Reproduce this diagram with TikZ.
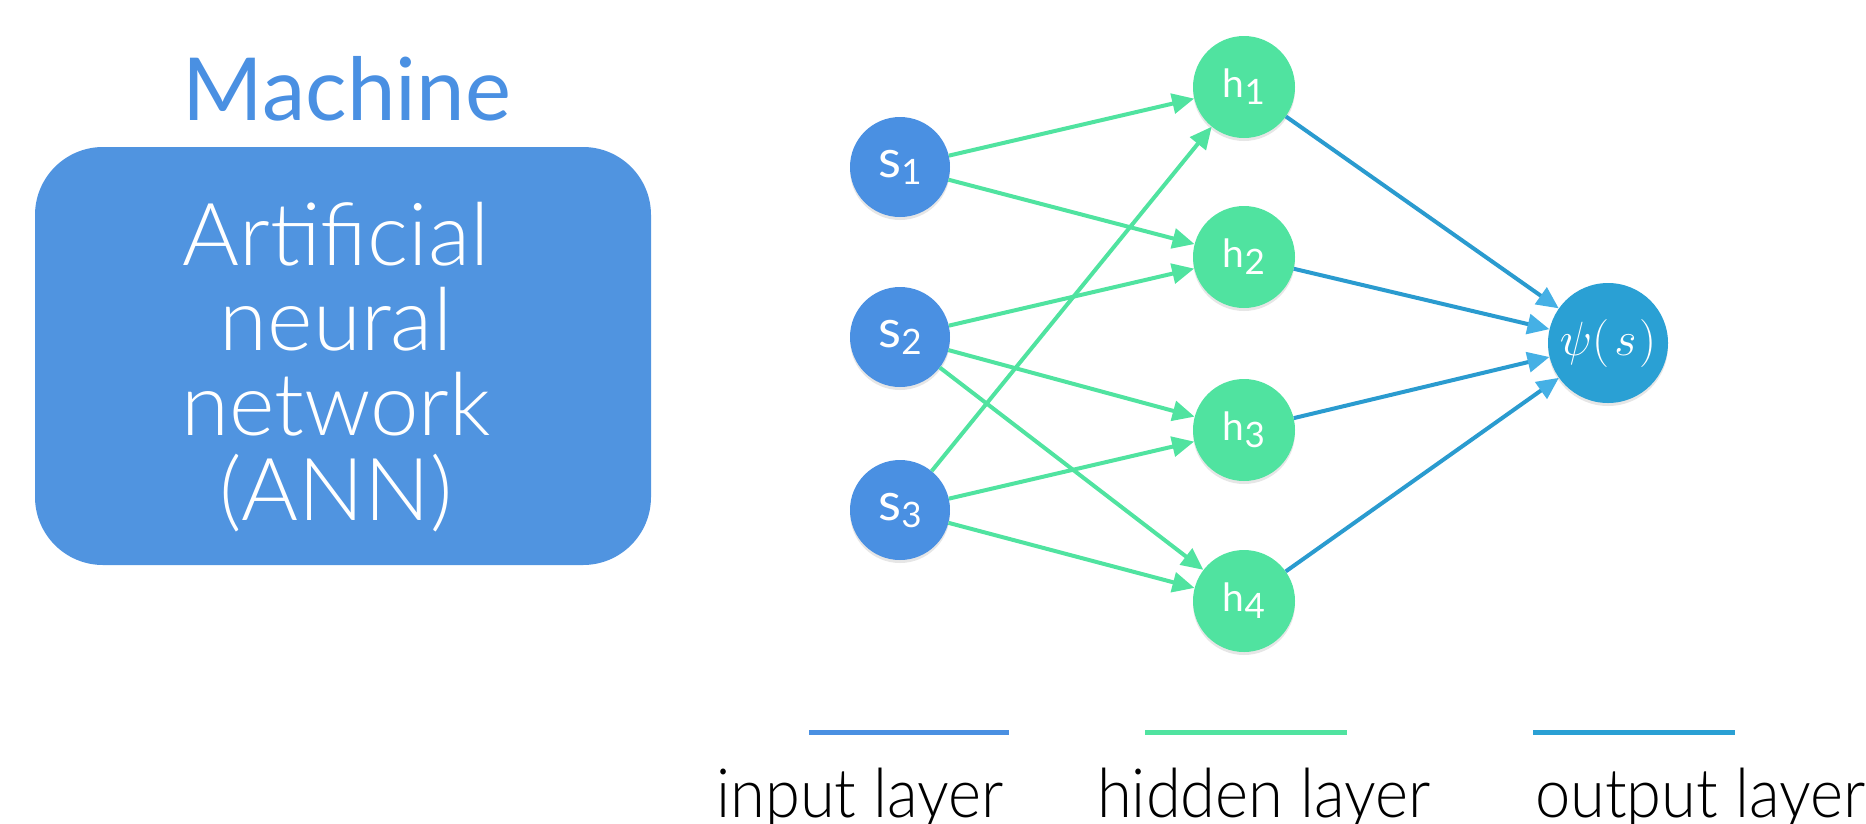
\RequirePackage{fix-cm}
\documentclass[tikz,border=0pt]{standalone}
\usepackage{fontspec}
\setmainfont{Lato}
\newfontfamily\latolight{Lato Light}
\newfontfamily\latolightnarrow{Lato Light}[FakeStretch=0.93]
\usetikzlibrary{arrows.meta,shadows}
\definecolor{inblue}{HTML}{4A90E2}
\definecolor{hidgreen}{HTML}{50E3A0}
\definecolor{outblue}{HTML}{2AA0D4}
\definecolor{outline}{HTML}{2A9BCF}
\definecolor{outtip}{HTML}{45B0E5}
\definecolor{boxblue}{HTML}{5094E0}
\definecolor{titleblue}{HTML}{4A90E2}
\newcommand\sublab[3]{{\fontsize{#3}{#3}\selectfont #1\raisebox{-7pt}{\fontsize{35}{35}\selectfont #2}}}
\begin{document}
\begin{tikzpicture}[x=1pt,y=-1pt,
  neuron/.style={circle, inner sep=0pt, text=white,
    drop shadow={shadow xshift=0pt, shadow yshift=-3pt, opacity=0.2}},
  inneuron/.style={neuron, fill=inblue, minimum size=100pt},
  hidneuron/.style={neuron, fill=hidgreen, minimum size=102pt},
  outneuron/.style={neuron, fill=outblue, minimum size=120pt},
  gedge/.style={draw=hidgreen, line width=4pt, -{Triangle[length=22pt,width=20pt]}},
  oedge/.style={draw=outline, line width=4pt, -{Triangle[length=22pt,width=20pt,color=outtip]}},
  legline/.style={line width=5pt},
  legtext/.style={anchor=base west, inner sep=0pt, font=\latolightnarrow\fontsize{68}{68}\selectfont}
]
\useasboundingbox (0,0) rectangle (1866,823);
% left panel
\node[anchor=base, inner sep=0pt, text=titleblue, font=\fontsize{87}{87}\selectfont] (title) at (347,120) {Machine};
\node[fill=boxblue, rounded corners=68pt, minimum width=616pt, minimum height=418pt, inner sep=0pt] (box) at (343,356) {};
\node[align=center, inner sep=0pt, text=white, font=\latolight\fontsize{87}{85}\selectfont] (boxtext) at (336,367)
  {Artificial\\neural\\network\\(ANN)};
% network
\node[inneuron] (s1) at (900,167) {\sublab{s}{1}{53}};
\node[inneuron] (s2) at (900,337) {\sublab{s}{2}{53}};
\node[inneuron] (s3) at (900,510) {\sublab{s}{3}{53}};
\node[hidneuron] (h1) at (1244,87) {\sublab{h}{1}{39}};
\node[hidneuron] (h2) at (1244,257) {\sublab{h}{2}{39}};
\node[hidneuron] (h3) at (1244,430) {\sublab{h}{3}{39}};
\node[hidneuron] (h4) at (1244,601) {\sublab{h}{4}{39}};
\node[outneuron] (psi) at (1608,343) {\fontsize{48}{48}\selectfont$\psi(\mkern2mu s\mkern1mu)$};
\draw[gedge] (s1) -- (h1);
\draw[gedge] (s1) -- (h2);
\draw[gedge] (s2) -- (h2);
\draw[gedge] (s2) -- (h3);
\draw[gedge] (s2) -- (h4);
\draw[gedge] (s3) -- (h1);
\draw[gedge] (s3) -- (h3);
\draw[gedge] (s3) -- (h4);
\draw[oedge] (h1) -- (psi);
\draw[oedge] (h2) -- (psi);
\draw[oedge] (h3) -- (psi);
\draw[oedge] (h4) -- (psi);
% legend
\draw[legline, inblue] (809,732) -- (1009,732);
\draw[legline, hidgreen] (1145,732) -- (1347,732);
\draw[legline, outblue] (1533,732) -- (1735,732);
\node[legtext] (lin) at (716,817) {input layer};
\node[legtext] (lhid) at (1097,817) {hidden layer};
\node[legtext] (lout) at (1535,817) {output layer};
\end{tikzpicture}
\end{document}
